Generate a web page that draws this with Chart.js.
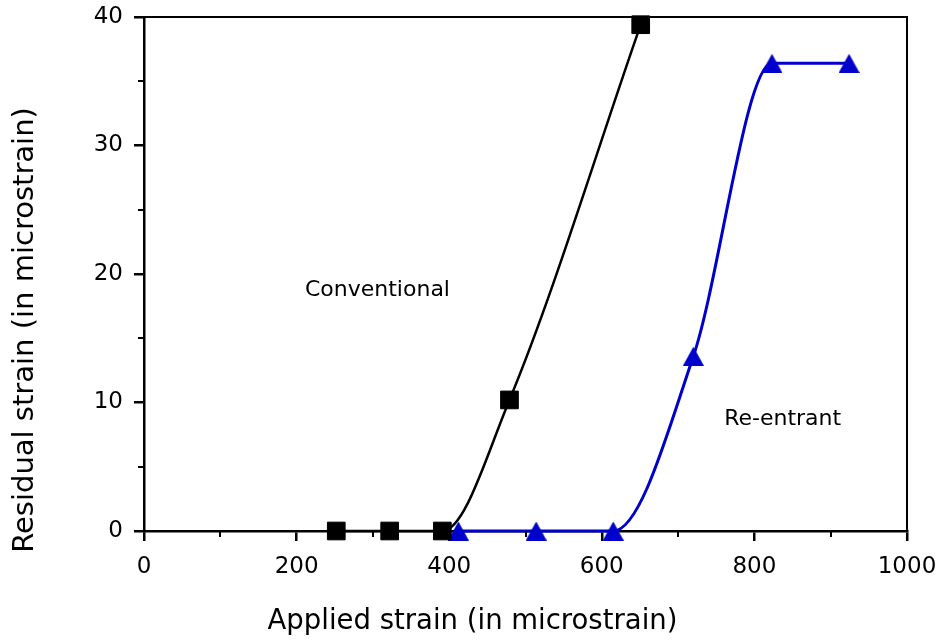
<!DOCTYPE html>
<html>
<head>
<meta charset="utf-8">
<script src="https://cdn.jsdelivr.net/npm/chart.js@4.4.1/dist/chart.umd.min.js"></script>
<style>
  html, body { margin: 0; padding: 0; background: #fff; }
  #wrap { width: 943px; height: 643px; }
</style>
</head>
<body>
<div id="wrap"><canvas id="c" width="943" height="643"></canvas></div>
<script>
// ---- data ----
const conventionalX = [252, 322, 391, 479, 651];
const conventionalY = [0, 0, 0, 10.2, 39.4];
const reentrantX = [412, 514, 615, 720, 823, 924];
const reentrantY = [0, 0, 0, 13.6, 36.4, 36.4];
const xTicks = [0, 200, 400, 600, 800, 1000];
const yTicks = [0, 10, 20, 30, 40];
const xMinorTicks = [100, 300, 500, 700, 900];
const yMinorTicks = [5, 15, 25, 35];
const labelTexts = ['Conventional', 'Re-entrant'];
const labelX = [306, 837];
const labelY = [18.7, 8.7];
const xTitle = 'Applied strain (in microstrain)';
const yTitle = 'Residual strain (in microstrain)';

const BLUE = '#0000cc';
const FONT = '"DejaVu Sans", Verdana, sans-serif';

function toPoints(xs, ys) { return xs.map((x, i) => ({ x: x, y: ys[i] })); }

// triangle marker centred on its bounding box
const tri = document.createElement('canvas');
tri.width = 21; tri.height = 19;
(function () {
  const g = tri.getContext('2d');
  g.fillStyle = BLUE;
  g.beginPath();
  g.moveTo(10.5, 0); g.lineTo(21, 19); g.lineTo(0, 19); g.closePath();
  g.fill();
})();

const extras = {
  id: 'extras',
  afterDraw(chart) {
    const ctx = chart.ctx;
    const a = chart.chartArea;
    const xs = chart.scales.x, ys = chart.scales.y;
    ctx.save();
    ctx.strokeStyle = '#000';
    ctx.lineWidth = 2;
    // top and right frame
    ctx.beginPath();
    ctx.moveTo(a.left, a.top); ctx.lineTo(a.right, a.top); ctx.lineTo(a.right, a.bottom);
    ctx.stroke();
    // minor ticks
    ctx.beginPath();
    xMinorTicks.forEach(v => {
      const px = Math.round(xs.getPixelForValue(v));
      ctx.moveTo(px, a.bottom); ctx.lineTo(px, a.bottom + 6);
    });
    yMinorTicks.forEach(v => {
      const py = Math.round(ys.getPixelForValue(v));
      ctx.moveTo(a.left - 6, py); ctx.lineTo(a.left, py);
    });
    ctx.stroke();
    // annotations
    ctx.fillStyle = '#000';
    ctx.font = '22px ' + FONT;
    ctx.textAlign = 'center';
    ctx.textBaseline = 'middle';
    labelTexts.forEach((t, i) => {
      ctx.fillText(t, xs.getPixelForValue(labelX[i]), ys.getPixelForValue(labelY[i]));
    });
    // axis titles (centred on the canvas, as in the reference)
    ctx.font = '27.5px ' + FONT;
    ctx.fillText(xTitle, chart.width / 2 + 1, 622);
    ctx.translate(25, 330);
    ctx.rotate(-Math.PI / 2);
    ctx.font = '29px ' + FONT;
    ctx.fillText(yTitle, 0, 0);
    ctx.restore();
  }
};

new Chart(document.getElementById('c'), {
  type: 'line',
  data: {
    datasets: [
      {
        label: 'Conventional',
        data: toPoints(conventionalX, conventionalY),
        borderColor: '#000',
        backgroundColor: '#000',
        borderWidth: 2.5,
        pointStyle: 'rect',
        pointRadius: 12.5,
        pointBorderWidth: 1,
        pointBackgroundColor: '#000',
        pointBorderColor: '#000',
        cubicInterpolationMode: 'monotone',
        clip: false
      },
      {
        label: 'Re-entrant',
        data: toPoints(reentrantX, reentrantY),
        borderColor: BLUE,
        backgroundColor: BLUE,
        borderWidth: 3,
        pointStyle: tri,
        pointRadius: 10,
        cubicInterpolationMode: 'monotone',
        clip: false
      }
    ]
  },
  options: {
    responsive: false,
    animation: false,
    layout: { padding: { top: 17, right: 36, left: 0, bottom: 0 } },
    plugins: { legend: { display: false }, tooltip: { enabled: false } },
    scales: {
      x: {
        type: 'linear',
        min: 0, max: 1000,
        afterFit(s) { s.height = 112; s.paddingLeft = 0; s.paddingRight = 0; },
        afterBuildTicks(s) { s.ticks = xTicks.map(v => ({ value: v })); },
        border: { display: true, color: '#000', width: 2.5 },
        grid: { drawOnChartArea: false, color: '#000', lineWidth: 2.5, tickLength: 10 },
        ticks: { color: '#000', font: { family: FONT, size: 23 }, padding: 12, maxRotation: 0,
                 callback: v => String(v) },
        title: { display: false }
      },
      y: {
        type: 'linear',
        min: 0, max: 40,
        afterFit(s) { s.width = 144; s.paddingTop = 0; s.paddingBottom = 0; },
        afterBuildTicks(s) { s.ticks = yTicks.map(v => ({ value: v })); },
        border: { display: true, color: '#000', width: 2.5 },
        grid: { drawOnChartArea: false, color: '#000', lineWidth: 2.5, tickLength: 10 },
        ticks: { color: '#000', font: { family: FONT, size: 23 }, padding: 11, callback: v => String(v) },
        title: { display: false }
      }
    }
  },
  plugins: [extras]
});
</script>
</body>
</html>
